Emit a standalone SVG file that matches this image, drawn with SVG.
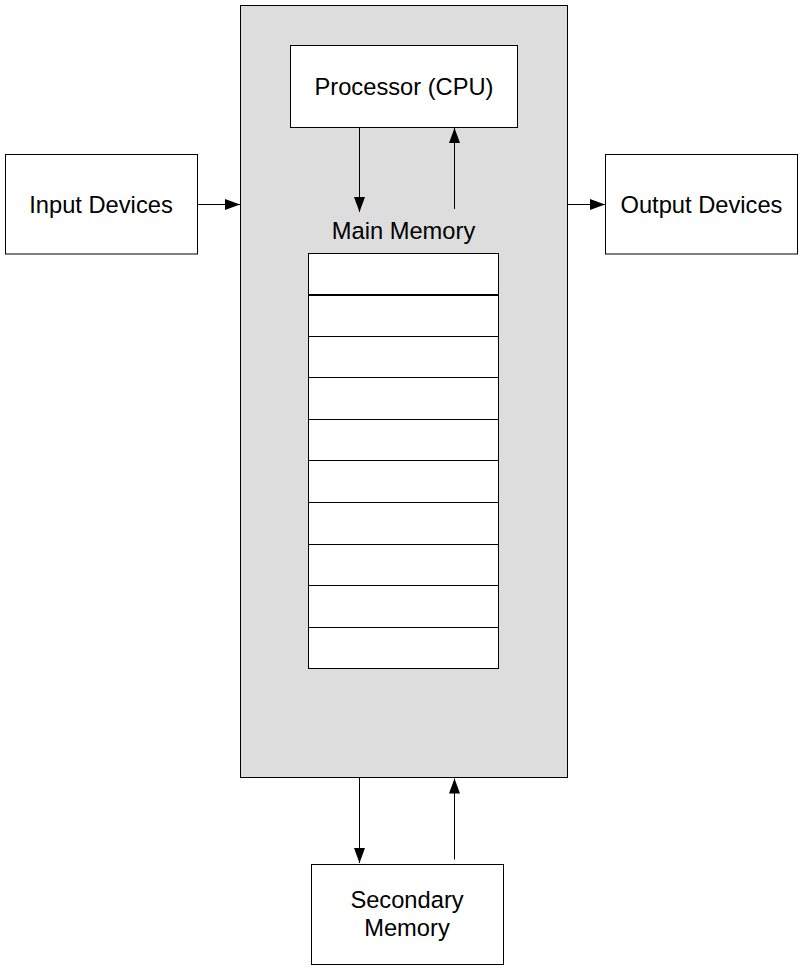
<svg xmlns="http://www.w3.org/2000/svg" width="802" height="970" viewBox="0 0 802 970">
<style>
.box{fill:#ffffff;stroke:#000000;stroke-width:1}
.lbl{font-family:"Liberation Sans",Arial,sans-serif;font-size:23.7px;fill:#000000;text-anchor:middle}
.conn{stroke:#000000;stroke-width:1;fill:none;marker-end:url(#arr)}
.cell{fill:#ffffff;stroke:#000000;stroke-width:1}
.div{stroke:#000000;stroke-width:1}
</style>
<defs>
<marker id="arr" markerUnits="userSpaceOnUse" markerWidth="15" markerHeight="11" refX="15" refY="5.5" orient="auto">
<path d="M0,0 L15,5.5 L0,11 z" fill="#000000"/>
</marker>
</defs>
<rect x="0" y="0" width="802" height="970" fill="#ffffff"/>
<g id="computer">
<rect x="240.5" y="5.5" width="327" height="772" fill="#dddddd" stroke="#000000" stroke-width="1"/>
</g>
<g id="cpu">
<rect class="box" x="290.5" y="45.5" width="227" height="82"/>
<text class="lbl" x="404" y="95">Processor (CPU)</text>
</g>
<g id="main-memory">
<text class="lbl" x="403.5" y="239.3">Main Memory</text>
<rect class="cell" x="308.5" y="253.5" width="190" height="415"/>
<line x1="308.5" y1="295" x2="498.5" y2="295" stroke="#000" stroke-width="2"/>
<line class="div" x1="308.5" y1="336.5" x2="498.5" y2="336.5"/>
<line class="div" x1="308.5" y1="377.5" x2="498.5" y2="377.5"/>
<line class="div" x1="308.5" y1="419.5" x2="498.5" y2="419.5"/>
<line class="div" x1="308.5" y1="460.5" x2="498.5" y2="460.5"/>
<line class="div" x1="308.5" y1="502.5" x2="498.5" y2="502.5"/>
<line class="div" x1="308.5" y1="544.5" x2="498.5" y2="544.5"/>
<line class="div" x1="308.5" y1="585.5" x2="498.5" y2="585.5"/>
<line class="div" x1="308.5" y1="627.5" x2="498.5" y2="627.5"/>
</g>
<g id="input-devices">
<rect class="box" x="5.5" y="154.5" width="192" height="99.5"/>
<text class="lbl" x="101" y="212.7">Input Devices</text>
</g>
<g id="output-devices">
<rect class="box" x="605.5" y="154.5" width="192" height="99.5"/>
<text class="lbl" x="701.5" y="212.7">Output Devices</text>
</g>
<g id="secondary-memory">
<rect class="box" x="311.5" y="864.5" width="192" height="100"/>
<text class="lbl" x="407" y="908.3">Secondary</text>
<text class="lbl" x="407" y="935.7">Memory</text>
</g>
<g id="connectors">
<line class="conn" x1="197.5" y1="204.5" x2="240" y2="204.5"/>
<line class="conn" x1="567.5" y1="204.5" x2="605" y2="204.5"/>
<line class="conn" x1="359.5" y1="127.5" x2="359.5" y2="212"/>
<line class="conn" x1="454.5" y1="209" x2="454.5" y2="128"/>
<line class="conn" x1="359.5" y1="778" x2="359.5" y2="863"/>
<line class="conn" x1="454.5" y1="859.5" x2="454.5" y2="778.5"/>
</g>
</svg>
